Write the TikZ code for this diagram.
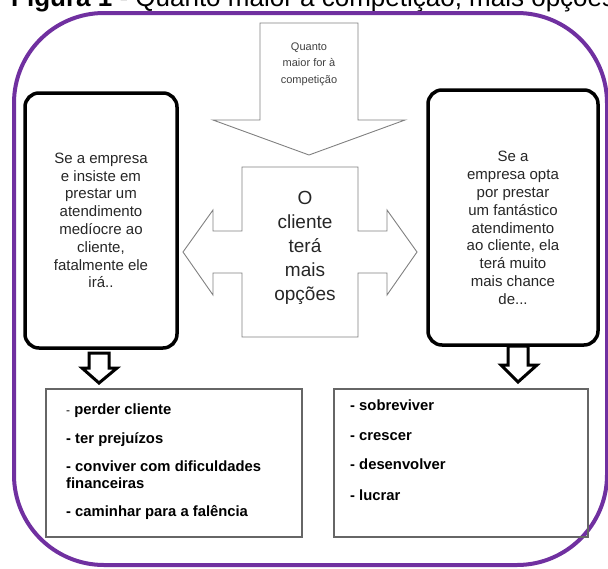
\documentclass[tikz,border=0pt]{standalone}
\usepackage{fontspec}
\setmainfont{Liberation Sans}

\definecolor{roxo}{HTML}{7030A0}

\newcommand*{\largura}{608}
\newcommand*{\altura}{568}

\begin{document}
\begin{tikzpicture}
[
	x=1pt,y=-1pt,
	moldura/.style={draw=roxo,line width=4pt,rounded corners=90pt},
	caixa/.style={draw,line width=3.5pt,rounded corners=14pt,minimum height=255pt},
	texto/.style={align=center,inner sep=0pt,font=\fontsize{15}{17.8}\selectfont,text=black!85},
	bloco/.style={draw=black!50,line width=0.9pt,line join=miter},
	setinha/.style={draw,line width=3pt,line join=miter},
	lista/.style={draw=black!60,line width=1.1pt,minimum height=148pt},
	item/.style={anchor=base west,inner sep=0pt,font=\fontsize{14.8}{17}\selectfont\bfseries}
]
	\useasboundingbox (0,0) rectangle (\largura,\altura);

	% titulo, cortado no topo
	\node[anchor=base west,inner sep=0pt,font=\fontsize{26}{30}\selectfont] (titulo) at (11,6.5)
		{\textbf{Figura 1} - Quanto maior a competição, mais opções};

	% moldura
	\draw[moldura] (14,13) rectangle (607,565);

	% seta de cima
	\draw[bloco] (260,23) -- (358,23) -- (358,120) -- (405,120) -- (309,155) -- (213,120) -- (260,120) -- cycle;
	\node[texto,font=\fontsize{11}{16.5}\selectfont,text=black!75] (competicao) at (309,64) {Quanto\\maior for à\\competição};

	% seta dupla do centro
	\draw[bloco] (242,167) -- (358,167) -- (358,231) -- (387,231) -- (387,210) -- (417,252) -- (387,295) -- (387,273)
		-- (358,273) -- (358,337) -- (242,337) -- (242,273) -- (213,273) -- (213,295) -- (183,252) -- (213,210)
		-- (213,231) -- (242,231) -- cycle;
	\node[texto,font=\fontsize{19}{24}\selectfont] (opcoes) at (305,248) {O\\cliente\\terá\\mais\\opções};

	% caixas laterais
	\node[caixa,minimum width=152pt] (mediocre) at (101,220.5) {};
	\node[texto] (txtmediocre) at (mediocre.center) {Se a empresa\\e insiste em\\prestar um\\atendimento\\medíocre ao\\cliente,\\fatalmente ele\\irá..};

	\node[caixa,minimum width=170pt] (fantastico) at (513,217.5) {};
	\node[texto] (txtfantastico) at (513,228) {Se a\\empresa opta\\por prestar\\um fantástico\\atendimento\\ao cliente, ela\\terá muito\\mais chance\\de...};

	% setas pequenas
	\draw[setinha] (89,353) -- (109,353) -- (109,368) -- (117,368) -- (99,383) -- (82,368) -- (89,368) -- cycle;
	\draw[setinha] (508,346) -- (528,346) -- (528,365) -- (537,365) -- (518,382) -- (501,365) -- (508,365) -- cycle;

	% consequencias
	\node[lista,minimum width=256pt] (perdas) at (174,463) {};
	\foreach \txt/\y [count=\i] in {{\mdseries\fontsize{12}{17}\selectfont -} perder cliente/414.6, - ter prejuízos/443.6,
		- conviver com dificuldades/471.6, financeiras/488.6, - caminhar para a falência/516.6}
		\node[item] (perda\i) at (66,\y) {\txt};

	\node[lista,minimum width=254pt] (ganhos) at (461,463) {};
	\foreach \txt/\y [count=\i] in {- sobreviver/410.4, - crescer/440.4, - desenvolver/469.6, - lucrar/500.6}
		\node[item] (ganho\i) at (350,\y) {\txt};

\end{tikzpicture}
\end{document}
